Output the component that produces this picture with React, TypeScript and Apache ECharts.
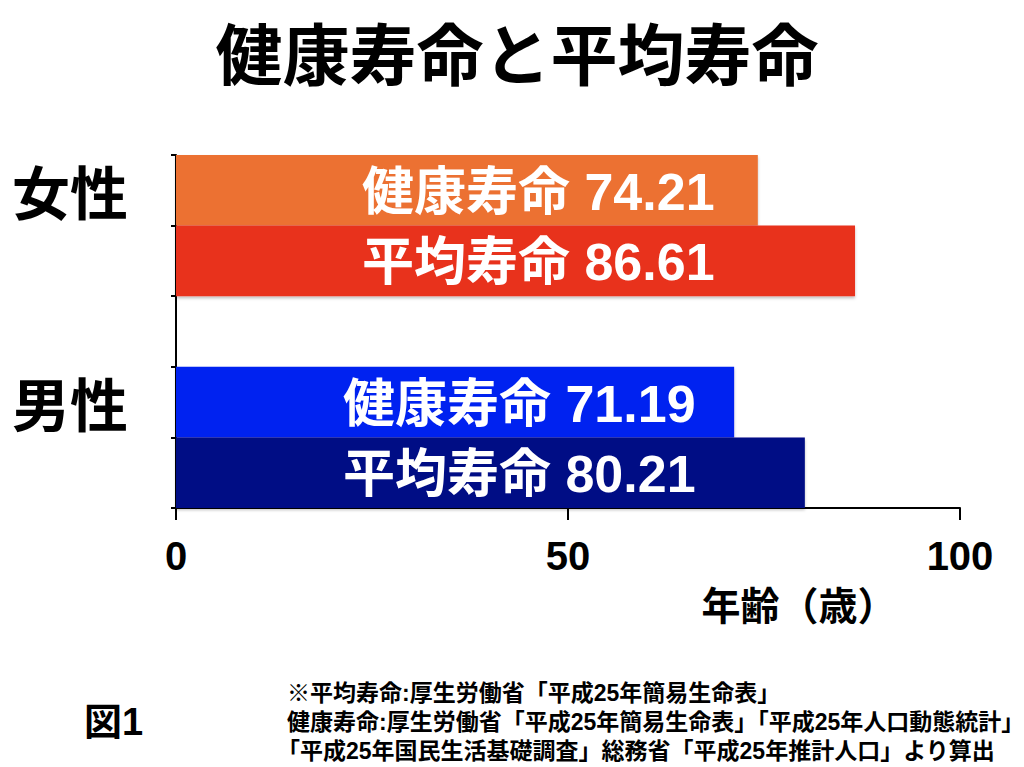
import React, { useEffect, useRef } from "react";
import * as echarts from "echarts";

const categories = ["女性", "", "", "男性", ""];
const barNames = ["健康寿命", "平均寿命", "", "健康寿命", "平均寿命"];
const values: (number | null)[] = [74.21, 86.61, null, 71.19, 80.21];
const barColors = ["#EC7132", "#E8321F", "transparent", "#0521F0", "#000A85"];
const labelOffsets = [186, 186, 0, 167, 167];
const xMin = 0;
const xMax = 100;
const xInterval = 50;

const titleText = "健康寿命と平均寿命";
const axisName = "年齢（歳）";
const figLabel = "図1";
const notes = [
  "※平均寿命:厚生労働省「平成25年簡易生命表」",
  "健康寿命:厚生労働省「平成25年簡易生命表」「平成25年人口動態統計」",
  "「平成25年国民生活基礎調査」総務省「平成25年推計人口」より算出",
];

const CJK = "'Noto Sans CJK JP', 'Noto Sans CJK SC', sans-serif";
const MIX = "'Liberation Sans', Arial, 'Noto Sans CJK JP', sans-serif";

export default function App() {
  const ref = useRef<HTMLDivElement>(null);
  useEffect(() => {
    if (!ref.current) return;
    const chart = echarts.init(ref.current, null, { renderer: "svg" });
    const data = values.map((v, i) =>
      v == null
        ? "-"
        : {
            value: v,
            itemStyle: {
              color: barColors[i],
              shadowColor: "rgba(0,0,0,0.25)",
              shadowBlur: 3,
              shadowOffsetY: 2,
            },
            label: { position: [labelOffsets[i], "52%"] },
          }
    );
    chart.setOption({
      animation: false,
      backgroundColor: "#ffffff",
      grid: { left: 176, right: 64, top: 155, bottom: 259, containLabel: false },
      xAxis: {
        type: "value",
        min: xMin,
        max: xMax,
        interval: xInterval,
        splitLine: { show: false },
        axisLine: { show: true, lineStyle: { color: "#000", width: 2 } },
        axisTick: { show: true, length: 12, lineStyle: { color: "#000", width: 2 } },
        axisLabel: {
          margin: 28,
          fontSize: 40,
          fontWeight: "bold",
          color: "#000",
          fontFamily: MIX,
        },
      },
      yAxis: {
        type: "category",
        inverse: true,
        data: categories,
        axisLine: { show: true, lineStyle: { color: "#000", width: 2 } },
        axisTick: { show: true, interval: 0, length: 5, lineStyle: { color: "#000", width: 2 } },
        axisLabel: {
          interval: 0,
          margin: 48,
          fontSize: 58,
          fontWeight: "bold",
          color: "#000",
          fontFamily: CJK,
          verticalAlign: "middle",
          padding: [14, 0, 0, 0],
        },
      },
      series: [
        {
          type: "bar",
          data,
          barWidth: "100%",
          barCategoryGap: "0%",
          label: {
            show: true,
            verticalAlign: "middle",
            align: "left",
            color: "#fff",
            fontSize: 52,
            fontWeight: "bold",
            fontFamily: MIX,
            formatter: (p: any) =>
              `${barNames[p.dataIndex]} ${(values[p.dataIndex] as number).toFixed(2)}`,
          },
        },
      ],
      graphic: [
        {
          type: "text",
          x: 517,
          y: 50,
          style: {
            text: titleText,
            fontSize: 67,
            fontWeight: "bold",
            fill: "#000",
            fontFamily: CJK,
            align: "center",
            verticalAlign: "middle",
          },
        },
        {
          type: "text",
          x: 799,
          y: 603,
          style: {
            text: axisName,
            fontSize: 39,
            fontWeight: "bold",
            fill: "#000",
            fontFamily: CJK,
            align: "center",
            verticalAlign: "middle",
          },
        },
        {
          type: "text",
          x: 84,
          y: 722,
          style: {
            text: figLabel,
            fontSize: 38,
            fontWeight: "bold",
            fill: "#000",
            fontFamily: MIX,
            align: "left",
            verticalAlign: "middle",
          },
        },
        ...notes.map((t, i) => ({
          type: "text",
          x: i === 2 ? 277 : 287,
          y: 693 + i * 29,
          style: {
            text: t,
            fontSize: 23,
            fontWeight: "bold",
            fill: "#000",
            fontFamily: MIX,
            align: "left",
            verticalAlign: "middle",
          },
        })),
      ],
    });
    return () => chart.dispose();
  }, []);
  return (
    <div
      ref={ref}
      style={{ position: "fixed", left: 0, top: 0, width: 1024, height: 767 }}
    />
  );
}
